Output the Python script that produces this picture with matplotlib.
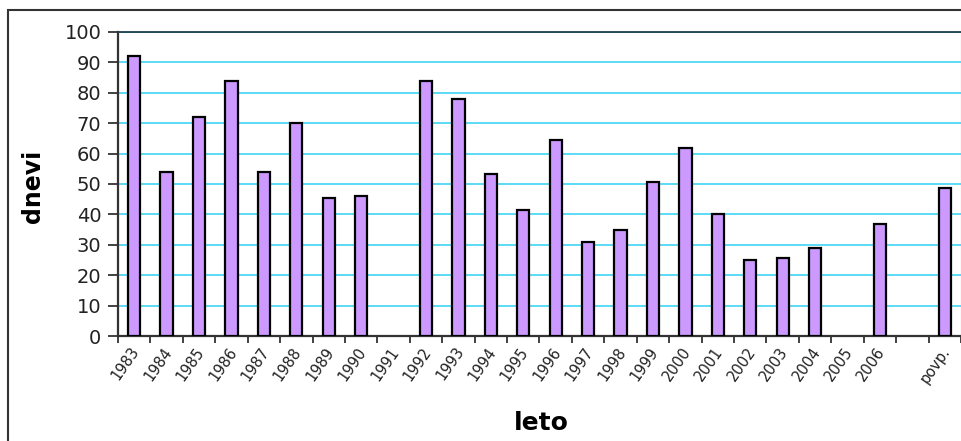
import numpy as np
import matplotlib.pyplot as plt
from matplotlib.patches import Rectangle
import matplotlib.transforms as mtransforms

# kategorije (Excel: prazne kategorije ostanejo prazne)
leta = ['1983', '1984', '1985', '1986', '1987', '1988', '1989', '1990', '1991',
        '1992', '1993', '1994', '1995', '1996', '1997', '1998', '1999', '2000',
        '2001', '2002', '2003', '2004', '2005', '2006', '', 'povp.']
dnevi = [92, 54, 72, 84, 54, 70, 45.3, 46, np.nan,
         84, 78, 53.3, 41.4, 64.5, 31, 35, 50.7, 62,
         40, 25, 25.7, 29, np.nan, 36.8, np.nan, 48.6]

fig = plt.figure(figsize=(9.62, 4.41), dpi=100)
ax = fig.add_axes([118/962, 1-336/441, 843/962, 304/441])

x = np.arange(len(leta)) + 0.5
ax.bar(x, dnevi, width=0.38, color='#cc99ff', edgecolor='black', linewidth=1.6, zorder=3)

ax.set_xlim(0, len(leta))
ax.set_ylim(0, 100)
ax.set_yticks(np.arange(0, 101, 10))
ax.yaxis.grid(True, color='#3fd4f4', linewidth=1.2, zorder=0)

# oznake med kategorijami, napisi na sredini
ax.set_xticks(np.arange(0, len(leta)+1))
ax.set_xticklabels([])
ax.set_xticks(x, minor=True)
ax.set_xticklabels(leta, minor=True, rotation=55, ha='right', va='top',
                   rotation_mode='anchor', fontsize=10.5, color='#222222')
ax.tick_params(axis='x', which='major', direction='out', length=5, width=1.3, color='#333333')
ax.tick_params(axis='x', which='minor', length=0, pad=6)
ax.tick_params(axis='y', direction='out', length=7, width=1.3, color='#333333',
               labelsize=14, labelcolor='#222222', pad=5)
offset = mtransforms.ScaledTranslation(-4/100, 0, fig.dpi_scale_trans)
for lab in ax.xaxis.get_minorticklabels():
    lab.set_transform(lab.get_transform() + offset)

for s in ['left', 'bottom']:
    ax.spines[s].set_color('#333333')
    ax.spines[s].set_linewidth(1.6)
ax.spines['top'].set_color('#1d3e4c')
ax.spines['top'].set_linewidth(1.3)
ax.spines['right'].set_color('#999999')

fig.text(33/962, 1-186/441, 'dnevi', rotation=90, ha='center', va='center',
         fontsize=17, fontweight='bold')
fig.text(541/962, 1-423/441, 'leto', ha='center', va='center',
         fontsize=18, fontweight='bold')

# okvir grafikona
fig.patches.append(Rectangle((8/962, -0.1), 1.2, 1-10/441+0.1, transform=fig.transFigure,
                             fill=False, edgecolor='#333333', linewidth=1.5))

fig.savefig('out.png', dpi=100)
